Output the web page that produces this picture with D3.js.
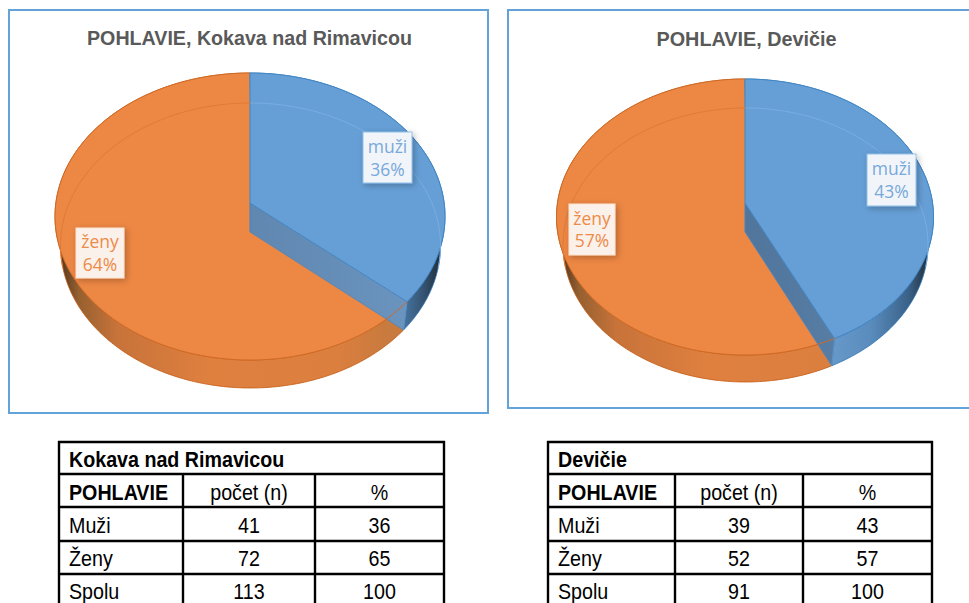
<!DOCTYPE html>
<html><head><meta charset="utf-8">
<script src="https://cdn.jsdelivr.net/npm/d3@7"></script>
<style>html,body{margin:0;padding:0;background:#fff;overflow:hidden}svg{display:block}</style>
</head><body><svg id="c" width="969" height="603"></svg>
<script>
// ---- data ----
const categories = ["muži", "ženy"];
const kokavaCounts = [41, 72];
const devicieCounts = [39, 52];
const kokavaPercentLabels = ["36%", "64%"];
const deviciePercentLabels = ["43%", "57%"];
const pieTitles = ["POHLAVIE, Kokava nad Rimavicou", "POHLAVIE, Devičie"];
const tablePlaces = ["Kokava nad Rimavicou", "Devičie"];
const tableHeader = ["POHLAVIE", "počet (n)", "%"];
const tableRowNames = ["Muži", "Ženy", "Spolu"];
const kokavaCountCol = ["41", "72", "113"];
const kokavaPctCol = ["36", "65", "100"];
const devicieCountCol = ["39", "52", "91"];
const deviciePctCol = ["43", "57", "100"];

// ---- layout ----
const svg = d3.select("#c");
const defs = svg.append("defs");
const shadow = defs.append("filter").attr("id","sh").attr("x","-30%").attr("y","-30%").attr("width","170%").attr("height","170%");
shadow.append("feDropShadow").attr("dx",2).attr("dy",2).attr("stdDeviation",3).attr("flood-color","#000").attr("flood-opacity",.28);
function grad(id, x1, x2, stops){
  const g = defs.append("linearGradient").attr("id",id).attr("gradientUnits","userSpaceOnUse")
    .attr("x1",x1).attr("x2",x2).attr("y1",0).attr("y2",0);
  stops.forEach(s=>g.append("stop").attr("offset",s[0]).attr("stop-color",s[1]));
}

const pies = [
 {counts:kokavaCounts, pct:kokavaPercentLabels, title:pieTitles[0], titleX:249.5, titleY:45, titleLen:325,
  frame:[9,10,479,403], cx:250, apexTop:203, up:130, down:157, rx:195,
  cxB:250.5, apexBot:232, upB:129, downB:156, rxB:190,
  wall:["#5f87b0","#6a93bd"],
  boxes:[{x:363,y:132,w:49,h:51,t1:153,t2:176,c:"#78a8dc",fill:"rgba(255,255,255,.9)",st:"#8fbde8"},
         {x:76,y:228,w:48,h:50,t1:248,t2:271,c:"#ee8a48",fill:"rgba(255,255,255,.88)",st:"#fbe3d2"}]},
 {counts:devicieCounts, pct:deviciePercentLabels, title:pieTitles[1], titleX:746.5, titleY:46, titleLen:180,
  frame:[508,10,480,398], cx:745, apexTop:203, up:124, down:152, rx:188.5,
  cxB:745.5, apexBot:232, upB:124, downB:150, rxB:182.5,
  wall:["#4c6f94","#577da5"],
  boxes:[{x:867,y:154,w:49,h:52,t1:175,t2:198,c:"#78a8dc",fill:"rgba(255,255,255,.9)",st:"#8fbde8"},
         {x:569,y:204,w:46,h:51,t1:225,t2:247,c:"#ee8a48",fill:"rgba(255,255,255,.88)",st:"#fbe3d2"}]}
];

// circle in perspective: angle -> screen point (centre projects to the apex)
function projector(cx, apex, up, down, rx){
  const ratio = up/down, k = (1-ratio)/(1+ratio), H = up*(1+k), R = rx*Math.sqrt(1-k*k);
  return a => { const s=Math.sin(a), c=Math.cos(a), w=1+k*c; return [cx+R*s/w, apex-H*c/w]; };
}
const line = d3.line();
const angles = (a0,a1)=>{ const n=Math.max(2,Math.ceil(Math.abs(a1-a0)/0.02)); const sc=d3.scaleLinear().domain([0,n]).range([a0,a1]); return d3.range(n+1).map(i=>sc(i)); };

pies.forEach((p,idx)=>{
  const g = svg.append("g");
  const top = projector(p.cx,p.apexTop,p.up,p.down,p.rx);
  const bot = projector(p.cxB,p.apexBot,p.upB,p.downB,p.rxB);
  const arcs = d3.pie().sort(null)(p.counts);
  const [blue, orange] = arcs;
  const L = p.cx-p.rx, W = 2*p.rx;
  grad("og"+idx, L, L+W, [[.02,"#5c3d22"],[.06,"#96602f"],[.16,"#c8733a"],[.4,"#df803f"],[.72,"#db7f3f"],[.85,"#c97a3e"]]);
  grad("bg"+idx, L+W*.7, L+W-3, idx==0
     ? [[0,"#5e93c8"],[.6,"#4f80b0"],[.85,"#33516f"],[.97,"#24323f"]]
     : [[0,"#6a9ccc"],[.45,"#5a8dbe"],[.8,"#3a6289"],[.97,"#24323f"]]);
  grad("wg"+idx, top(blue.endAngle)[0]-160, top(blue.endAngle)[0], [[0,p.wall[0]],[1,p.wall[1]]]);

  // frame
  g.append("rect").attr("x",p.frame[0]).attr("y",p.frame[1]).attr("width",p.frame[2]).attr("height",p.frame[3])
    .attr("fill","#fff").attr("stroke","#64a2da").attr("stroke-width",2);
  // title
  g.append("text").attr("x",p.titleX).attr("y",p.titleY).attr("text-anchor","middle")
    .attr("font-family","Liberation Sans").attr("font-weight","bold").attr("font-size",21).attr("fill","#595959")
    .attr("textLength",p.titleLen).attr("lengthAdjust","spacingAndGlyphs").text(p.title);

  const sideOf = d => line([...angles(d.startAngle,d.endAngle).map(top), ...angles(d.endAngle,d.startAngle).map(bot)])+"Z";
  const faceOf = d => line([[p.cx,p.apexTop], ...angles(d.startAngle,d.endAngle).map(top)])+"Z";

  // orange side wall, orange face
  g.append("path").attr("d",sideOf(orange)).attr("fill",`url(#og${idx})`).attr("stroke","#c55a11").attr("stroke-width",.8);
  g.append("path").attr("d",faceOf(orange)).attr("fill","#ed8744");
  // blue side wall
  g.append("path").attr("d",sideOf(blue)).attr("fill",`url(#bg${idx})`).attr("stroke","#2e75b6").attr("stroke-width",.8);
  // inner cut wall of the blue wedge
  const e = blue.endAngle;
  g.append("path").attr("d",line([[p.cx,p.apexTop],[p.cx,p.apexBot],bot(e),top(e)])+"Z").attr("fill",`url(#wg${idx})`);
  g.append("path").attr("d",line([[p.cx,p.apexBot],bot(e)])).attr("stroke","#4f87bd").attr("stroke-width",.8).attr("fill","none");
  g.append("path").attr("d",line([bot(e),top(e)])).attr("stroke","#5b93c8").attr("stroke-width",1).attr("fill","none");
  // blue face
  g.append("path").attr("d",faceOf(blue)).attr("fill","#669fd6");
  g.append("path").attr("d",line([[p.cx,p.apexBot],[p.cx,p.apexTop],...angles(0,e).map(top),[p.cx,p.apexTop]])).attr("fill","none").attr("stroke","#3f86c6").attr("stroke-width",1);
  // orange rim
  g.append("path").attr("d",line(angles(e,2*Math.PI).map(top))).attr("fill","none").attr("stroke","#cf6a25").attr("stroke-width",1);
  // faint base outline seen through the back
  const hidden = (a0,a1,c)=>g.append("path").attr("d",line(angles(a0,a1).map(bot))).attr("fill","none").attr("stroke",c).attr("stroke-width",1);
  hidden(0,Math.PI*.58,"#78aee2");
  hidden(Math.PI*1.42,2*Math.PI,"#de7b37");

  // labels
  p.boxes.forEach((b,i)=>{
    g.append("rect").attr("x",b.x).attr("y",b.y).attr("width",b.w).attr("height",b.h)
      .attr("fill",b.fill).attr("stroke",b.st).attr("stroke-width",1).attr("filter","url(#sh)");
    [[categories[i],b.t1],[p.pct[i],b.t2]].forEach(t=>{
      g.append("text").attr("x",b.x+b.w/2).attr("y",t[1]).attr("text-anchor","middle")
       .attr("font-family","Open Sans").attr("font-size",17.5).attr("fill",b.c).text(t[0]);
    });
  });
});

// ---- tables ----
const tables = [
 {place:tablePlaces[0], cnt:kokavaCountCol, pct:kokavaPctCol, xs:[59,183,315,444]},
 {place:tablePlaces[1], cnt:devicieCountCol, pct:deviciePctCol, xs:[548,675,803,932]}
];
const rowYs = [442,474,507,541,574,603];
tables.forEach(t=>{
  const g = svg.append("g");
  const [x0,x1,x2,x3] = t.xs;
  const rule = (a,b,c,d)=>g.append("line").attr("x1",a).attr("y1",b).attr("x2",c).attr("y2",d).attr("stroke","#000").attr("stroke-width",2.4);
  rowYs.slice(0,5).forEach(y=>rule(x0-1,y,x3+1,y));
  rule(x0,441,x0,603); rule(x3,441,x3,603);
  rule(x1,474,x1,603); rule(x2,474,x2,603);
  const txt=(x,y,s,anchor,bold)=>g.append("text").attr("transform",`translate(${x},${y}) scale(.915,1.03)`).attr("text-anchor",anchor)
    .attr("font-family","Liberation Sans").attr("font-size",21.5).attr("font-weight",bold?"bold":"normal").attr("fill","#000").text(s);
  txt(x0+10,467,t.place,"start",true);
  txt(x0+10,500,tableHeader[0],"start",true);
  txt((x1+x2)/2,500,tableHeader[1],"middle",false);
  txt((x2+x3)/2,500,tableHeader[2],"middle",false);
  tableRowNames.forEach((n,i)=>{
    const y=[533,566,599][i];
    txt(x0+10,y,n,"start",false);
    txt((x1+x2)/2,y,t.cnt[i],"middle",false);
    txt((x2+x3)/2,y,t.pct[i],"middle",false);
  });
});
</script></body></html>
